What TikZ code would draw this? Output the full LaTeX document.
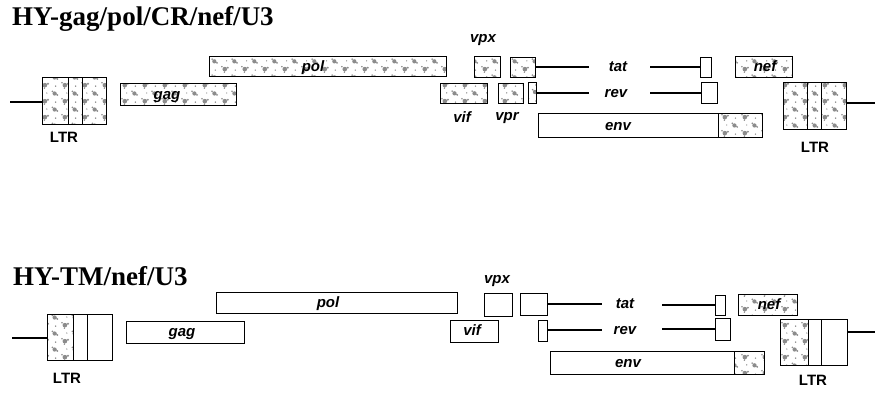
\documentclass[tikz,border=0pt]{standalone}
\usepackage{fontspec}
\setmainfont{Liberation Serif}
\newfontfamily\labfont{Liberation Sans}
\usetikzlibrary{patterns}
\pgfdeclarepatternformonly{stipple}{\pgfpointorigin}{\pgfpoint{20pt}{16pt}}{\pgfpoint{20pt}{16pt}}{
  \pgfpathcircle{\pgfpoint{5pt}{4pt}}{2.4pt}
  \pgfpathcircle{\pgfpoint{8.2pt}{5.5pt}}{1.1pt}
  \pgfpathcircle{\pgfpoint{2pt}{6.5pt}}{0.9pt}
  \pgfpathcircle{\pgfpoint{4.5pt}{0.8pt}}{0.8pt}
  \pgfpathcircle{\pgfpoint{15pt}{12pt}}{2.2pt}
  \pgfpathcircle{\pgfpoint{17.8pt}{10.5pt}}{1pt}
  \pgfpathcircle{\pgfpoint{12.6pt}{14.3pt}}{0.9pt}
  \pgfpathcircle{\pgfpoint{16pt}{3pt}}{0.8pt}
  \pgfpathcircle{\pgfpoint{7pt}{12.5pt}}{0.7pt}
  \pgfusepath{fill}
}
\tikzset{
 gbox/.style={draw, line width=1.2pt, inner sep=0pt, anchor=north west},
 stip/.style={gbox, pattern=stipple, pattern color=black!45},
 whitebox/.style={gbox, fill=white},
 glab/.style={font=\labfont\fontsize{15}{16}\selectfont\bfseries\itshape, inner sep=0pt, anchor=base},
 ltrlab/.style={font=\labfont\fontsize{15}{16}\selectfont\bfseries, inner sep=0pt},
 ttl/.style={font=\fontsize{27}{30}\selectfont\bfseries, inner sep=0pt, anchor=base west},
 conn/.style={line width=1.3pt},
}
\newcommand\gb[6]{\node[#2, minimum width={(#5-#3)*1pt}, minimum height={(#6-#4)*1pt}] (#1) at (#3,#4) {};}
\begin{document}
\begin{tikzpicture}[x=1pt,y=-1pt]
\useasboundingbox (0,0) rectangle (875,392);
% ---------- top construct ----------
\node[ttl] (t1) at (12,25) {HY-gag/pol/CR/nef/U3};
\gb{ltrA1}{stip}{42}{77}{68}{124}
\gb{ltrA2}{stip}{68}{77}{82}{124}
\gb{ltrA3}{stip}{82}{77}{106}{124}
\node[ltrlab] (ltrAl) at (64,137) {LTR};
\gb{gagA}{stip}{120}{83}{236}{105}
\gb{polA}{stip}{209}{56}{446}{76}
\gb{vpxA}{stip}{474}{56}{500}{77}
\gb{tatA1}{stip}{510}{57}{535}{77}
\gb{tatA2}{whitebox}{700}{57}{711}{77}
\gb{vifA}{stip}{440}{83}{487}{103}
\gb{vprA}{stip}{498}{83}{523}{103}
\gb{revA1}{stip}{528}{82}{536}{103}
\gb{revA2}{whitebox}{701}{82}{717}{103}
\gb{envA1}{whitebox}{538}{113}{718}{137}
\gb{envA2}{stip}{718}{113}{762}{137}
\gb{nefA}{stip}{735}{56}{792}{77}
\gb{ltrB1}{stip}{783}{82}{807}{129}
\gb{ltrB2}{stip}{807}{82}{821}{129}
\gb{ltrB3}{stip}{821}{82}{846}{129}
\node[ltrlab] (ltrBl) at (815,147) {LTR};
\node[glab] (gagAl) at (167,99) {gag};
\node[glab] (polAl) at (313,71) {pol};
\node[glab] (vpxAl) at (483,42) {vpx};
\node[glab] (vifAl) at (462,122) {vif};
\node[glab] (vprAl) at (507,120) {vpr};
\node[glab] (tatAl) at (618,71) {tat};
\node[glab] (revAl) at (616,97) {rev};
\node[glab] (envAl) at (618,130) {env};
\node[glab] (nefAl) at (765,71) {nef};
\coordinate (lA) at (10,102);
\draw[conn] (lA) -- (lA -| ltrA1.west);
\coordinate (tatAa) at (589,67);
\draw[conn] (tatAa -| tatA1.east) -- (tatAa);
\coordinate (tatAb) at (650,67);
\draw[conn] (tatAb) -- (tatAb -| tatA2.west);
\coordinate (revAa) at (589,93);
\draw[conn] (revAa -| revA1.east) -- (revAa);
\coordinate (revAb) at (650,93);
\draw[conn] (revAb) -- (revAb -| revA2.west);
\coordinate (rB) at (875,103);
\draw[conn] (rB -| ltrB3.east) -- (rB);
% ---------- bottom construct ----------
\node[ttl] (t2) at (13,285) {HY-TM/nef/U3};
\gb{ltrC1}{stip}{47}{314}{73}{360}
\gb{ltrC2}{whitebox}{73}{314}{87}{360}
\gb{ltrC3}{whitebox}{87}{314}{112}{360}
\node[ltrlab] (ltrCl) at (67,378) {LTR};
\gb{gagC}{whitebox}{126}{321}{244}{343}
\gb{polC}{whitebox}{216}{292}{457}{313}
\gb{vpxC}{whitebox}{484}{293}{512}{316}
\gb{tatC1}{whitebox}{520}{293}{547}{315}
\gb{tatC2}{whitebox}{715}{295}{725}{315}
\gb{vifC}{whitebox}{450}{320}{498}{342}
\gb{revC1}{whitebox}{538}{320}{547}{341}
\gb{revC2}{whitebox}{715}{318}{730}{340}
\gb{envC1}{whitebox}{550}{351}{734}{374}
\gb{envC2}{stip}{734}{351}{764}{374}
\gb{nefC}{stip}{738}{294}{797}{315}
\gb{ltrD1}{stip}{780}{319}{808}{365}
\gb{ltrD2}{whitebox}{808}{319}{821}{365}
\gb{ltrD3}{whitebox}{821}{319}{847}{365}
\node[ltrlab] (ltrDl) at (813,380) {LTR};
\node[glab] (gagCl) at (182,336) {gag};
\node[glab] (polCl) at (328,307) {pol};
\node[glab] (vpxCl) at (497,283) {vpx};
\node[glab] (vifCl) at (472,335) {vif};
\node[glab] (tatCl) at (625,308) {tat};
\node[glab] (revCl) at (625,334) {rev};
\node[glab] (envCl) at (628,367) {env};
\node[glab] (nefCl) at (769,309) {nef};
\coordinate (lC) at (12,338);
\draw[conn] (lC) -- (lC -| ltrC1.west);
\coordinate (tatCa) at (602,304);
\draw[conn] (tatCa -| tatC1.east) -- (tatCa);
\coordinate (tatCb) at (662,305);
\draw[conn] (tatCb) -- (tatCb -| tatC2.west);
\coordinate (revCa) at (602,330);
\draw[conn] (revCa -| revC1.east) -- (revCa);
\coordinate (revCb) at (662,329);
\draw[conn] (revCb) -- (revCb -| revC2.west);
\coordinate (rD) at (875,332);
\draw[conn] (rD -| ltrD3.east) -- (rD);
\end{tikzpicture}
\end{document}
